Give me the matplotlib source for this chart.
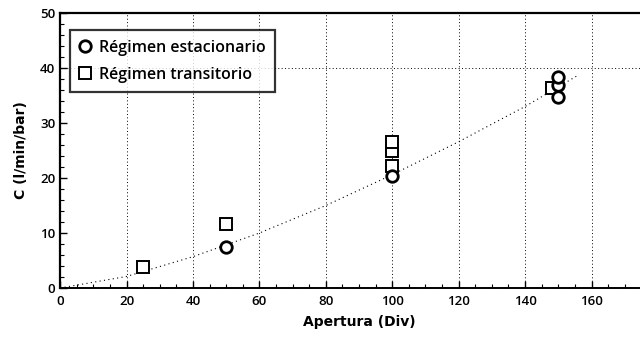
import matplotlib
matplotlib.use("Agg")
import matplotlib.pyplot as plt
from matplotlib.ticker import MultipleLocator

plt.rcParams['font.family'] = ['Open Sans', 'DejaVu Sans']

# Data
steady_x = [50, 100, 150, 150, 150]
steady_y = [7.5, 20.3, 34.8, 36.9, 38.4]
trans_x = [25, 50, 100, 100, 100, 148]
trans_y = [3.8, 11.7, 22.2, 24.9, 26.6, 36.4]
fit_x = [0, 20, 40, 60, 80, 100, 120, 140, 156]
fit_y = [0, 2.1, 5.7, 10.0, 15.0, 20.6, 26.6, 33.0, 38.7]

xticks = [0, 20, 40, 60, 80, 100, 120, 140, 160]
yticks = [0, 10, 20, 30, 40, 50]

fig = plt.figure(figsize=(6.4, 3.37), dpi=100)
ax = fig.add_axes([0.094, 0.1454, 0.934, 0.816])
ax.set_xlim(0, 180)
ax.set_ylim(0, 50)

for x in xticks[1:]:
    ax.axvline(x, color='black', linestyle=(0, (1, 2.5)), linewidth=0.7, zorder=0)
ax.axhline(40, color='black', linestyle=(0, (1, 2.5)), linewidth=0.7, zorder=0)

ax.plot(fit_x, fit_y, color='black', linestyle=(0, (1, 3)), linewidth=0.8, zorder=1)

ax.plot(steady_x, steady_y, linestyle='none', marker='o', markersize=8.3,
        markerfacecolor='white', markeredgecolor='black', markeredgewidth=2.0,
        label='Régimen estacionario', zorder=3)
ax.plot(trans_x, trans_y, linestyle='none', marker='s', markersize=8,
        markerfacecolor='white', markeredgecolor='black', markeredgewidth=1.4,
        label='Régimen transitorio', zorder=2)

ax.set_xticks(xticks)
ax.set_yticks(yticks)
ax.xaxis.set_minor_locator(MultipleLocator(5))
ax.yaxis.set_minor_locator(MultipleLocator(2))
ax.tick_params(which='both', direction='in', labelsize=9.5, top=False, right=False)
ax.tick_params(which='major', length=5, width=1)
ax.tick_params(which='minor', length=3, width=0.8)
ax.tick_params(axis='x', pad=5)
for lab in ax.get_xticklabels() + ax.get_yticklabels():
    lab.set_fontweight('semibold')

ax.spines['left'].set_linewidth(1.6)
ax.spines['bottom'].set_linewidth(1.4)
ax.spines['top'].set_linewidth(1.6)
ax.spines['right'].set_visible(False)

ax.set_xlabel('Apertura (Div)', fontsize=10, fontweight='bold',
              family='DejaVu Sans', labelpad=5)
ax.set_ylabel('C (l/min/bar)', fontsize=10, fontweight='bold',
              family='DejaVu Sans', labelpad=9)

leg = ax.legend(loc='upper left', bbox_to_anchor=(0.017, 0.938), fontsize=11.5,
                frameon=True, fancybox=False, handletextpad=0.6,
                borderpad=0.6, labelspacing=0.7, handlelength=0.6,
                borderaxespad=0)
leg.get_frame().set_edgecolor('black')
leg.get_frame().set_linewidth(1.6)
for t in leg.get_texts():
    t.set_fontweight('semibold')

fig.savefig('out.png', dpi=100)
